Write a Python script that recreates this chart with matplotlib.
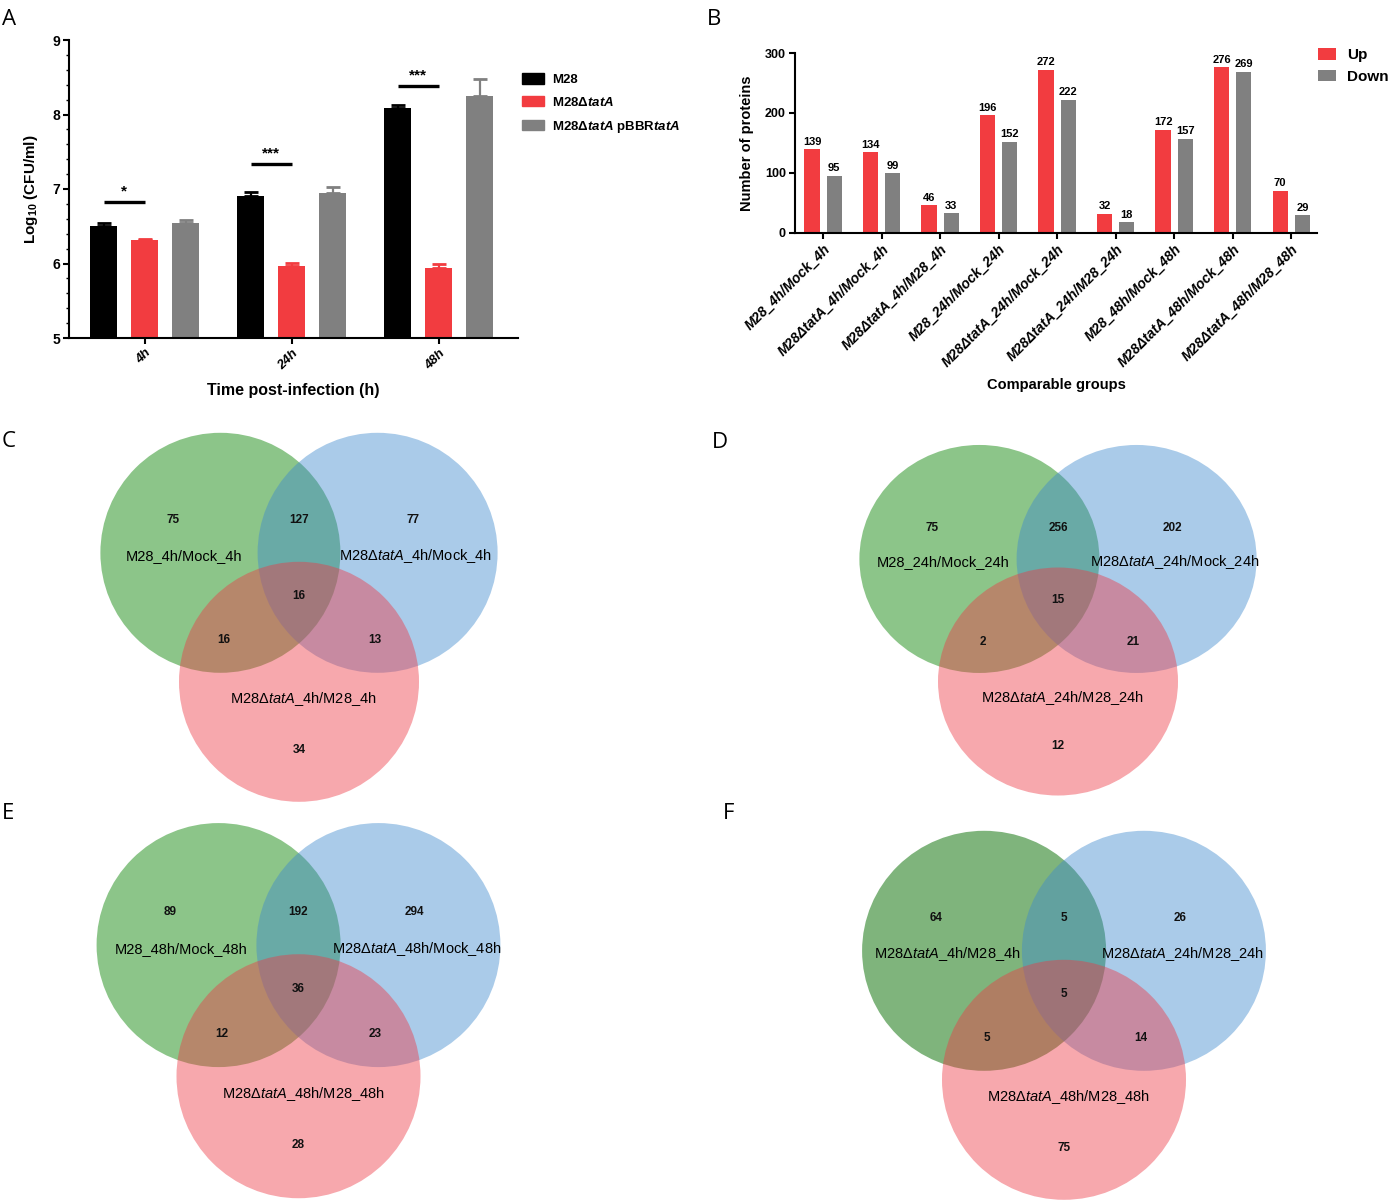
import matplotlib
matplotlib.use("Agg")
import matplotlib.pyplot as plt
import numpy as np
from matplotlib.patches import Ellipse, Patch
from matplotlib.ticker import MultipleLocator

plt.rcParams['font.family'] = ['Liberation Sans', 'DejaVu Sans']
plt.rcParams['mathtext.fontset'] = 'custom'
plt.rcParams['mathtext.rm'] = 'Liberation Sans'
plt.rcParams['mathtext.it'] = 'Liberation Sans:italic'
plt.rcParams['mathtext.bf'] = 'Liberation Sans:bold'
HAS_BFIT = True
try:
    plt.rcParams['mathtext.bfit'] = 'Liberation Sans:italic:bold'
except Exception:
    HAS_BFIT = False

# ---------------- data ----------------
# Panel A
time_labels = ['4h', '24h', '48h']
m28_vals = [6.51, 6.91, 8.09]
m28_err = [0.04, 0.05, 0.04]
dtat_vals = [6.31, 5.96, 5.94]
dtat_err = [0.02, 0.05, 0.05]
comp_vals = [6.55, 6.95, 8.25]
comp_err = [0.04, 0.08, 0.23]
sig_levels = [6.82, 7.33, 8.38]
sig_marks = ['*', '***', '***']

# Panel B
group_labels = ['M28_4h/Mock_4h', 'M28ΔtatA_4h/Mock_4h', 'M28ΔtatA_4h/M28_4h',
                'M28_24h/Mock_24h', 'M28ΔtatA_24h/Mock_24h', 'M28ΔtatA_24h/M28_24h',
                'M28_48h/Mock_48h', 'M28ΔtatA_48h/Mock_48h', 'M28ΔtatA_48h/M28_48h']
up_counts = [139, 134, 46, 196, 272, 32, 172, 276, 70]
down_counts = [95, 99, 33, 152, 222, 18, 157, 269, 29]

# Venn panels: counts order = A only, A&B, B only, A&B&C, A&C, B&C, C only
venn_C_counts = [75, 127, 77, 16, 16, 13, 34]
venn_C_labels = ['M28_4h/Mock_4h', r'M28Δ$\mathit{tatA}$_4h/Mock_4h', r'M28Δ$\mathit{tatA}$_4h/M28_4h']
venn_D_counts = [75, 256, 202, 15, 2, 21, 12]
venn_D_labels = ['M28_24h/Mock_24h', r'M28Δ$\mathit{tatA}$_24h/Mock_24h', r'M28Δ$\mathit{tatA}$_24h/M28_24h']
venn_E_counts = [89, 192, 294, 36, 12, 23, 28]
venn_E_labels = ['M28_48h/Mock_48h', r'M28Δ$\mathit{tatA}$_48h/Mock_48h', r'M28Δ$\mathit{tatA}$_48h/M28_48h']
venn_F_counts = [64, 5, 26, 5, 5, 14, 75]
venn_F_labels = [r'M28Δ$\mathit{tatA}$_4h/M28_4h', r'M28Δ$\mathit{tatA}$_24h/M28_24h', r'M28Δ$\mathit{tatA}$_48h/M28_48h']

# ---------------- layout ----------------
W, H = 1393, 1203
fig = plt.figure(figsize=(W / 100, H / 100), dpi=100)


def box(l, t, r, b):
    return [l / W, 1 - b / H, (r - l) / W, (b - t) / H]


RED = '#f23c40'
GREY = '#808080'

# ---------------- Panel A ----------------
axA = fig.add_axes(box(69, 40, 518, 338))
x = np.arange(len(time_labels))
off = 0.279
wid = 0.184
series = [(m28_vals, m28_err, 'black', -off), (dtat_vals, dtat_err, RED, 0.0), (comp_vals, comp_err, GREY, off)]
for vals, err, col, o in series:
    axA.bar(x + o, vals, wid, color=col, zorder=2)
    axA.errorbar(x + o, vals, yerr=[np.zeros(len(vals)), err], fmt='none', ecolor=col,
                 elinewidth=1.6, capsize=5, capthick=2.0, zorder=3)
for i, (lvl, mk) in enumerate(zip(sig_levels, sig_marks)):
    axA.plot([x[i] - off, x[i]], [lvl, lvl], color='black', lw=2.4, solid_capstyle='butt')
    axA.text(x[i] - off / 2, lvl + 0.05, mk, ha='center', va='bottom', fontsize=11, fontweight='bold')
axA.set_ylim(5, 9)
axA.set_xlim(-0.514, 2.54)
axA.set_yticks([5, 6, 7, 8, 9])
axA.yaxis.set_minor_locator(MultipleLocator(0.2))
axA.set_xticks(x)
axA.set_xticklabels(time_labels, rotation=45, ha='right', va='top', rotation_mode='anchor',
                    fontsize=9.5, fontweight='bold', fontstyle='italic')
for lab in axA.get_yticklabels():
    lab.set_fontweight('bold')
    lab.set_fontsize(10)
for s in ['top', 'right']:
    axA.spines[s].set_visible(False)
for s in ['left', 'bottom']:
    axA.spines[s].set_linewidth(1.5)
axA.tick_params(axis='both', which='major', length=4.5, width=1.5, pad=2)
axA.tick_params(axis='y', which='minor', length=2.2, width=1.0)
axA.set_xlabel('Time post-infection (h)', fontsize=11.5, fontweight='bold', labelpad=8)
axA.set_ylabel(r'Log$_\mathbf{10}$ (CFU/ml)', fontsize=11, fontweight='bold', labelpad=9)
if HAS_BFIT:
    legA_labels = ['M28', r'M28Δ$\mathbfit{tatA}$', r'M28Δ$\mathbfit{tatA}$ pBBR$\mathbfit{tatA}$']
else:
    legA_labels = ['M28', r'M28Δ$\mathit{tatA}$', r'M28Δ$\mathit{tatA}$ pBBR$\mathit{tatA}$']
hA = [Patch(color=c) for c in ['black', RED, GREY]]
legA = fig.legend(hA, legA_labels, loc='upper left', bbox_to_anchor=(522 / W, 1 - 73 / H),
                  frameon=False, fontsize=9.5, handlelength=1.7, handleheight=0.85,
                  handletextpad=0.6, labelspacing=0.75, borderpad=0, borderaxespad=0)
for t in legA.get_texts():
    t.set_fontweight('bold')

# ---------------- Panel B ----------------
axB = fig.add_axes(box(795, 53, 1317, 232.7))
xb = np.arange(len(group_labels))
bo = 0.19
bw = 0.26
axB.bar(xb - bo, up_counts, bw, color=RED, zorder=2, label='Up')
axB.bar(xb + bo, down_counts, bw, color=GREY, zorder=2, label='Down')
for i in range(len(xb)):
    axB.text(xb[i] - bo, up_counts[i] + 4, str(up_counts[i]), ha='center', va='bottom',
             fontsize=8, fontweight='bold')
    axB.text(xb[i] + bo, down_counts[i] + 4, str(down_counts[i]), ha='center', va='bottom',
             fontsize=8, fontweight='bold')
axB.set_ylim(0, 300)
axB.set_xlim(-0.48, 8.44)
axB.set_yticks([0, 100, 200, 300])
axB.set_xticks(xb)
axB.set_xticklabels(group_labels, rotation=45, ha='right', va='top', rotation_mode='anchor',
                    fontsize=10, fontweight='bold', fontstyle='italic')
for lab in axB.get_yticklabels():
    lab.set_fontweight('bold')
    lab.set_fontsize(9)
for s in ['top', 'right']:
    axB.spines[s].set_visible(False)
for s in ['left', 'bottom']:
    axB.spines[s].set_linewidth(1.5)
axB.tick_params(axis='both', which='major', length=4.5, width=1.5, pad=2)
axB.set_xlabel('Comparable groups', fontsize=10.5, fontweight='bold', labelpad=6)
axB.set_ylabel('Number of proteins', fontsize=10.5, fontweight='bold', labelpad=8)
legB = fig.legend(loc='upper left', bbox_to_anchor=(1318 / W, 1 - 48 / H), frameon=False,
                  fontsize=11, handlelength=1.2, handleheight=0.8, handletextpad=0.7,
                  labelspacing=0.5, borderpad=0, borderaxespad=0)
for t in legB.get_texts():
    t.set_fontweight('bold')

# ---------------- Venn panels ----------------
axV = fig.add_axes([0, 0, 1, 1], zorder=-1)
axV.set_xlim(0, W)
axV.set_ylim(H, 0)
axV.axis('off')

CIRCLE_POS = [(-0.655, -0.36), (0.655, -0.36), (0.0, 0.715)]
NUM_POS = [(-1.05, -0.63), (0.0, -0.63), (0.95, -0.63), (0.0, 0.0),
           (-0.63, 0.37), (0.63, 0.37), (0.0, 1.28)]
LAB_POS = [(-0.96, -0.33), (0.97, -0.33), (0.04, 0.86)]
BLUE_C = '#3e89cd'
RED_C = '#ed3945'


def venn(cx, cy, rx, ry, counts, labels, green):
    fills = [(green, 1.0), (BLUE_C, 0.44), (RED_C, 0.44)]
    for (px, py), (col, a) in zip(CIRCLE_POS, fills):
        axV.add_patch(Ellipse((cx + px * rx, cy + py * ry), 2 * rx, 2 * ry,
                              facecolor=col, alpha=a, edgecolor='none'))
    for (px, py), n in zip(NUM_POS, counts):
        axV.text(cx + px * rx, cy + py * ry, str(n), ha='center', va='center',
                 fontsize=8.5, fontweight='bold', color='#111111')
    for (px, py), lab in zip(LAB_POS, labels):
        axV.text(cx + px * rx, cy + py * ry, lab, ha='center', va='center',
                 fontsize=10.5, color='black')


venn(299, 596, 120, 120, venn_C_counts, venn_C_labels, '#8cc589')
venn(1058, 600, 120, 114, venn_D_counts, venn_D_labels, '#8cc589')
venn(298.5, 989, 122, 122, venn_E_counts, venn_E_labels, '#8cc589')
venn(1064, 994, 122, 120, venn_F_counts, venn_F_labels, '#7fb47c')

# ---------------- panel letters ----------------
for letter, (lx, ly) in zip('ABCDEF', [(2, 25), (707, 25), (2, 447), (712, 448), (2, 819), (723, 819)]):
    fig.text(lx / W, 1 - ly / H, letter, fontsize=16, family=['Open Sans', 'DejaVu Sans'],
             va='baseline', ha='left')

fig.savefig('out.png', dpi=100)
